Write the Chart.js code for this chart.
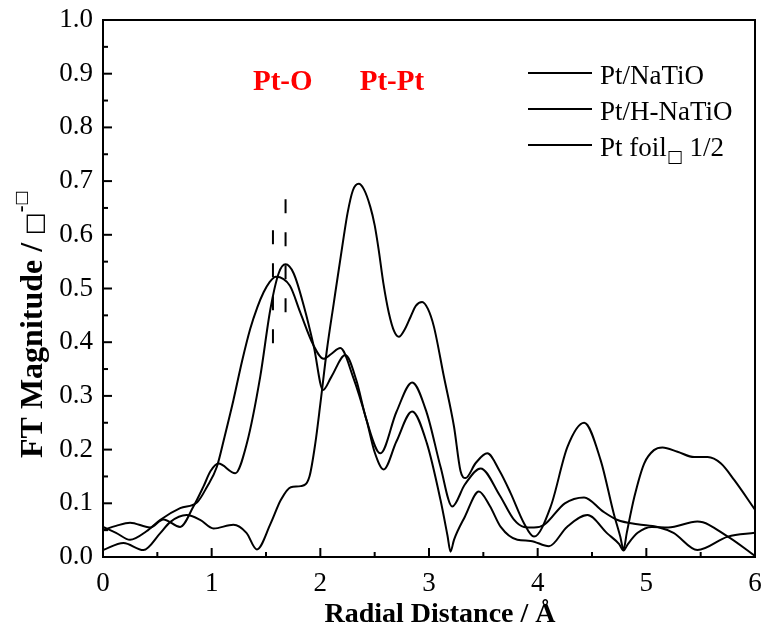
<!DOCTYPE html>
<html><head><meta charset="utf-8">
<script src="https://cdn.jsdelivr.net/npm/chart.js@4.4.1/dist/chart.umd.min.js"></script>
<style>html,body{margin:0;padding:0;background:#fff;}#wrap{width:764px;height:630px;}</style>
</head><body><div id="wrap"><canvas id="c" width="764" height="630"></canvas></div>
<script>
// ---- data ----
const seriesLabels = ['Pt/NaTiO', 'Pt/H-NaTiO', 'Pt foil□ 1/2'];
const xTickLabels = ['0', '1', '2', '3', '4', '5', '6'];
const yTickLabels = ['0.0','0.1','0.2','0.3','0.4','0.5','0.6','0.7','0.8','0.9','1.0'];

const rA = [0, 0.12, 0.249, 0.4, 0.525, 0.71, 0.867, 0.955, 1.048, 1.12, 1.2, 1.28, 1.355, 1.42, 1.478, 1.53, 1.591, 1.72, 1.816, 1.935, 2.03, 2.1, 2.184, 2.3, 2.425, 2.5, 2.583, 2.7, 2.845, 2.98, 3.106, 3.17, 3.198, 3.23, 3.33, 3.459, 3.56, 3.66, 3.813, 3.935, 4.104, 4.27, 4.458, 4.64, 4.75, 4.79, 4.83, 4.92, 5.05, 5.2, 5.47, 5.75, 6.0];
const ftA = [0.056, 0.045, 0.032, 0.048, 0.069, 0.091, 0.102, 0.13, 0.168, 0.225, 0.292, 0.365, 0.425, 0.465, 0.493, 0.511, 0.522, 0.505, 0.455, 0.395, 0.369, 0.378, 0.389, 0.336, 0.255, 0.195, 0.163, 0.215, 0.271, 0.212, 0.106, 0.04, 0.01, 0.032, 0.075, 0.122, 0.095, 0.056, 0.032, 0.03, 0.02, 0.056, 0.078, 0.044, 0.024, 0.012, 0.024, 0.045, 0.056, 0.055, 0.066, 0.038, 0.002];

const rB = [0, 0.12, 0.249, 0.433, 0.556, 0.71, 0.832, 0.924, 0.99, 1.063, 1.217, 1.324, 1.447, 1.539, 1.616, 1.68, 1.755, 1.85, 1.94, 2.025, 2.1, 2.23, 2.33, 2.425, 2.553, 2.7, 2.845, 2.98, 3.106, 3.214, 3.33, 3.475, 3.65, 3.78, 3.874, 3.966, 4.06, 4.25, 4.427, 4.6, 4.735, 4.919, 5.103, 5.25, 5.47, 5.75, 6.0];
const ftB = [0.05, 0.058, 0.064, 0.055, 0.07, 0.056, 0.094, 0.131, 0.16, 0.174, 0.156, 0.212, 0.336, 0.46, 0.528, 0.545, 0.528, 0.466, 0.392, 0.311, 0.335, 0.376, 0.33, 0.255, 0.193, 0.27, 0.325, 0.268, 0.168, 0.094, 0.135, 0.165, 0.115, 0.07, 0.056, 0.055, 0.06, 0.1, 0.111, 0.085, 0.069, 0.061, 0.056, 0.045, 0.013, 0.038, 0.045];

const rC = [0, 0.188, 0.372, 0.525, 0.618, 0.77, 0.894, 1.017, 1.2, 1.32, 1.416, 1.544, 1.636, 1.728, 1.82, 1.9, 1.954, 2.0, 2.06, 2.123, 2.215, 2.25, 2.3, 2.353, 2.4, 2.46, 2.5, 2.537, 2.58, 2.63, 2.68, 2.722, 2.78, 2.83, 2.88, 2.937, 2.99, 3.045, 3.137, 3.23, 3.29, 3.336, 3.43, 3.536, 3.65, 3.751, 3.874, 3.966, 4.12, 4.274, 4.428, 4.58, 4.7, 4.76, 4.79, 4.82, 4.89, 4.98, 5.07, 5.149, 5.287, 5.44, 5.564, 5.687, 5.81, 6.0];
const ftC = [0.013, 0.026, 0.013, 0.044, 0.065, 0.078, 0.069, 0.053, 0.06, 0.045, 0.014, 0.063, 0.106, 0.13, 0.132, 0.15, 0.212, 0.285, 0.385, 0.472, 0.596, 0.64, 0.683, 0.695, 0.685, 0.652, 0.618, 0.572, 0.51, 0.455, 0.42, 0.41, 0.425, 0.447, 0.468, 0.475, 0.462, 0.429, 0.336, 0.243, 0.16, 0.147, 0.175, 0.193, 0.16, 0.119, 0.063, 0.038, 0.094, 0.205, 0.25, 0.18, 0.081, 0.038, 0.014, 0.045, 0.112, 0.174, 0.199, 0.204, 0.196, 0.186, 0.186, 0.174, 0.143, 0.088];

// dashed marker lines: [R, FT start, FT end]
const markPtO = [1.564, 0.398, 0.614];
const markPtPt = [1.68, 0.456, 0.674];
const annoLabels = ['Pt-O', 'Pt-Pt'];
const annoPos = [[1.38, 0.87], [2.362, 0.87]];

const SERIF = "'Liberation Serif', 'Times New Roman', serif";
const BOXF = "'DejaVu Sans', sans-serif";

function pts(xs, ys) { return xs.map((x, i) => ({x: x, y: ys[i]})); }
const lineStyle = {borderColor: '#000', borderWidth: 2, pointRadius: 0, fill: false, cubicInterpolationMode: 'monotone'};
const dashStyle = {borderColor: '#000', borderWidth: 2, pointRadius: 0, fill: false, borderDash: [14, 19], tension: 0};

function noPad(s) { s.paddingLeft = 0; s.paddingRight = 0; s.paddingTop = 0; s.paddingBottom = 0; }

const deco = {
  id: 'deco',
  afterDraw(chart) {
    const ctx = chart.ctx, ca = chart.chartArea, xs = chart.scales.x, ys = chart.scales.y;
    ctx.save();
    ctx.strokeStyle = '#000'; ctx.lineWidth = 2;
    // frame top & right
    ctx.beginPath(); ctx.moveTo(ca.left, ca.top); ctx.lineTo(ca.right, ca.top); ctx.lineTo(ca.right, ca.bottom); ctx.stroke();
    // inward ticks
    xs.ticks.forEach(t => {
      const px = xs.getPixelForValue(t.value);
      const major = Math.abs(t.value - Math.round(t.value)) < 1e-6;
      ctx.beginPath(); ctx.moveTo(px, ca.bottom); ctx.lineTo(px, ca.bottom - (major ? 9 : 5)); ctx.stroke();
    });
    ys.ticks.forEach(t => {
      const py = ys.getPixelForValue(t.value);
      const major = Math.abs(t.value * 10 - Math.round(t.value * 10)) < 1e-6;
      ctx.beginPath(); ctx.moveTo(ca.left, py); ctx.lineTo(ca.left + (major ? 9 : 5), py); ctx.stroke();
    });
    ctx.fillStyle = '#000';
    // x title
    ctx.font = 'bold 28px ' + SERIF; ctx.textAlign = 'center'; ctx.textBaseline = 'alphabetic';
    ctx.fillText('Radial Distance / Å', 440, 622);
    // y title
    ctx.save();
    ctx.translate(42, 458); ctx.rotate(-Math.PI / 2);
    ctx.textAlign = 'left';
    let p = 0;
    const main = 'FT Magnitude / ';
    ctx.font = 'bold 32px ' + SERIF; ctx.fillText(main, p, 0); p += ctx.measureText(main).width;
    ctx.font = '24px ' + BOXF; ctx.fillText('□', p, 0); p += ctx.measureText('□').width;
    ctx.font = 'bold 20px ' + SERIF; ctx.fillText('-', p, -15); p += ctx.measureText('-').width;
    ctx.font = '16px ' + BOXF; ctx.fillText('□', p, -16);
    ctx.restore();
    // annotations
    ctx.fillStyle = '#ff0000'; ctx.font = 'bold 29px ' + SERIF; ctx.textAlign = 'left';
    annoLabels.forEach((s, i) => ctx.fillText(s, xs.getPixelForValue(annoPos[i][0]), ys.getPixelForValue(annoPos[i][1])));
    // legend
    ctx.fillStyle = '#000';
    const rowsY = [73, 109, 145];
    seriesLabels.forEach((lab, i) => {
      const y = rowsY[i];
      ctx.beginPath(); ctx.moveTo(528, y); ctx.lineTo(592, y); ctx.stroke();
      ctx.font = '27px ' + SERIF;
      const base = y + 11;
      if (lab.indexOf('□') >= 0) {
        const parts = lab.split('□');
        let q = 600;
        ctx.fillText(parts[0], q, base); q += ctx.measureText(parts[0]).width;
        ctx.font = '17px ' + BOXF; ctx.fillText('□', q, base + 6); q += ctx.measureText('□').width;
        ctx.font = '27px ' + SERIF; ctx.fillText(parts[1], q, base);
      } else {
        ctx.fillText(lab, 600, base);
      }
    });
    ctx.restore();
  }
};

new Chart(document.getElementById('c'), {
  type: 'line',
  data: {
    datasets: [
      Object.assign({label: seriesLabels[0], data: pts(rA, ftA)}, lineStyle),
      Object.assign({label: seriesLabels[1], data: pts(rB, ftB)}, lineStyle),
      Object.assign({label: seriesLabels[2], data: pts(rC, ftC)}, lineStyle),
      Object.assign({label: 'Pt-O mark', data: [{x: markPtO[0], y: markPtO[1]}, {x: markPtO[0], y: markPtO[2]}]}, dashStyle),
      Object.assign({label: 'Pt-Pt mark', data: [{x: markPtPt[0], y: markPtPt[1]}, {x: markPtPt[0], y: markPtPt[2]}]}, dashStyle)
    ]
  },
  options: {
    responsive: false, animation: false, devicePixelRatio: 1,
    layout: {padding: {top: 20, right: 9, left: 0, bottom: 0}},
    plugins: {legend: {display: false}, tooltip: {enabled: false}},
    scales: {
      x: {
        type: 'linear', min: 0, max: 6,
        grid: {display: false, drawTicks: false},
        border: {display: true, color: '#000', width: 2},
        ticks: {stepSize: 0.5, autoSkip: false, maxRotation: 0, padding: 11, color: '#000', font: {family: SERIF, size: 27},
          callback: v => { const i = Math.round(v); return Math.abs(v - i) < 1e-6 ? xTickLabels[i] : ''; }},
        afterFit: s => { s.height = 73; noPad(s); }
      },
      y: {
        type: 'linear', min: 0, max: 1,
        grid: {display: false, drawTicks: false},
        border: {display: true, color: '#000', width: 2},
        ticks: {stepSize: 0.05, autoSkip: false, padding: 10, color: '#000', font: {family: SERIF, size: 27},
          callback: v => { const i = Math.round(v * 10); return Math.abs(v * 10 - i) < 1e-6 ? yTickLabels[i] : ''; }},
        afterFit: s => { s.width = 103; noPad(s); }
      }
    }
  },
  plugins: [deco]
});
</script></body></html>
